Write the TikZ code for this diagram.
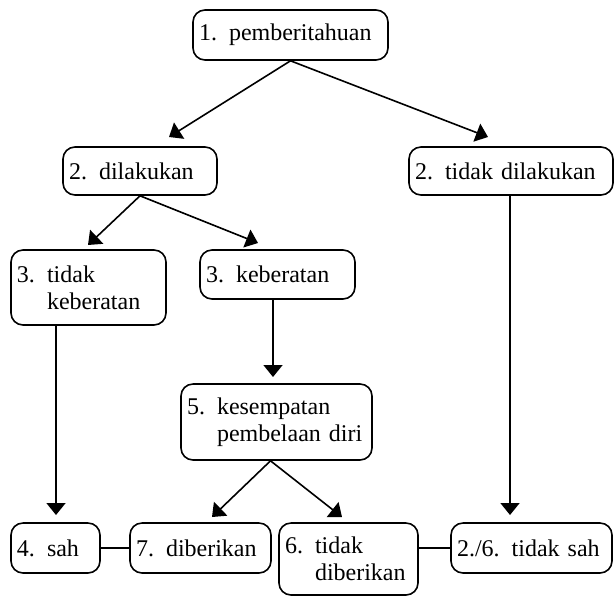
\documentclass[tikz,border=0pt]{standalone}
\usepackage{fontspec}
\setmainfont{Liberation Serif}
\usetikzlibrary{arrows.meta}
\newcommand{\nomor}[2]{\makebox[15pt][l]{#1}#2}
\tikzset{
	kotak/.style={draw, line width=0.8pt, rounded corners=6pt, align=left, inner xsep=3pt, inner ysep=0pt, font=\fontsize{12}{13.5}\selectfont},
	panah/.style={line width=0.8pt, -{Triangle[width=9.5pt,length=6pt]}},
	garis/.style={line width=0.8pt}
}

\begin{document}
\begin{tikzpicture}[x=0.5pt, y=-0.5pt]
		%%%%% START %%%%%
		\useasboundingbox (0, 0) rectangle (614, 596);
		
		\node[kotak, text width=91.5pt, minimum height=25pt] (pemberitahuan) at (290.5, 35) {\nomor{1.}{pemberitahuan}};
		
		\node[kotak, text width=71pt, minimum height=24pt] (dilakukan) at (140, 171) {\nomor{2.}{dilakukan}};
		\node[kotak, text width=96pt, minimum height=24pt] (tidakdilakukan) at (511, 171) {\nomor{2.}{tidak dilakukan}};
		
		\node[kotak, text width=71.5pt, minimum height=37.5pt] (tidakkeberatan) at (88.5, 287.5) {\nomor{3.}{tidak}\\\hspace*{15pt}keberatan};
		\node[kotak, text width=71.5pt, minimum height=24.5pt] (keberatan) at (277.5, 274.5) {\nomor{3.}{keberatan}};
		
		\node[kotak, text width=89.5pt, minimum height=38pt] (kesempatan) at (276.5, 422) {\nomor{5.}{kesempatan}\\\hspace*{15pt}pembelaan diri};
		
		\node[kotak, text width=38.5pt, minimum height=25pt] (sah) at (55.5, 548) {\nomor{4.}{sah}};
		\node[kotak, text width=64.5pt, minimum height=25pt] (diberikan) at (200.5, 548) {\nomor{7.}{diberikan}};
		\node[kotak, text width=63.5pt, minimum height=36pt] (tidakdiberikan) at (348.5, 559) {\nomor{6.}{tidak}\\\hspace*{15pt}diberikan};
		\node[kotak, text width=74.5pt, minimum height=25pt] (tidaksah) at (531.5, 548) {2./6. tidak sah};
		
		% ujung panah
		\coordinate (ujung1) at (169, 137);
		\coordinate (ujung2) at (488, 137);
		\coordinate (ujung3) at (88, 245);
		\coordinate (ujung4) at (258, 243);
		\coordinate (ujung5) at (273, 377);
		\coordinate (ujung6) at (56, 515);
		\coordinate (ujung7) at (212, 517);
		\coordinate (ujung8) at (342, 517);
		\coordinate (ujung9) at (510, 515);
		
		\draw[panah] (pemberitahuan.south) -- (ujung1);
		\draw[panah] (pemberitahuan.south) -- (ujung2);
		\draw[panah] (dilakukan.south) -- (ujung3);
		\draw[panah] (dilakukan.south) -- (ujung4);
		\draw[panah] (keberatan.south -| ujung5) -- (ujung5);
		\draw[panah] (tidakkeberatan.south -| ujung6) -- (ujung6);
		\draw[panah] ([xshift=-3pt]kesempatan.south) -- (ujung7);
		\draw[panah] ([xshift=-3pt]kesempatan.south) -- (ujung8);
		\draw[panah] (tidakdilakukan.south -| ujung9) -- (ujung9);
		
		\draw[garis] (sah.east) -- (diberikan.west);
		\draw[garis] (tidakdiberikan.east |- tidaksah.west) -- (tidaksah.west);
		
		%%%%% END %%%%%
	\end{tikzpicture}
\end{document}
